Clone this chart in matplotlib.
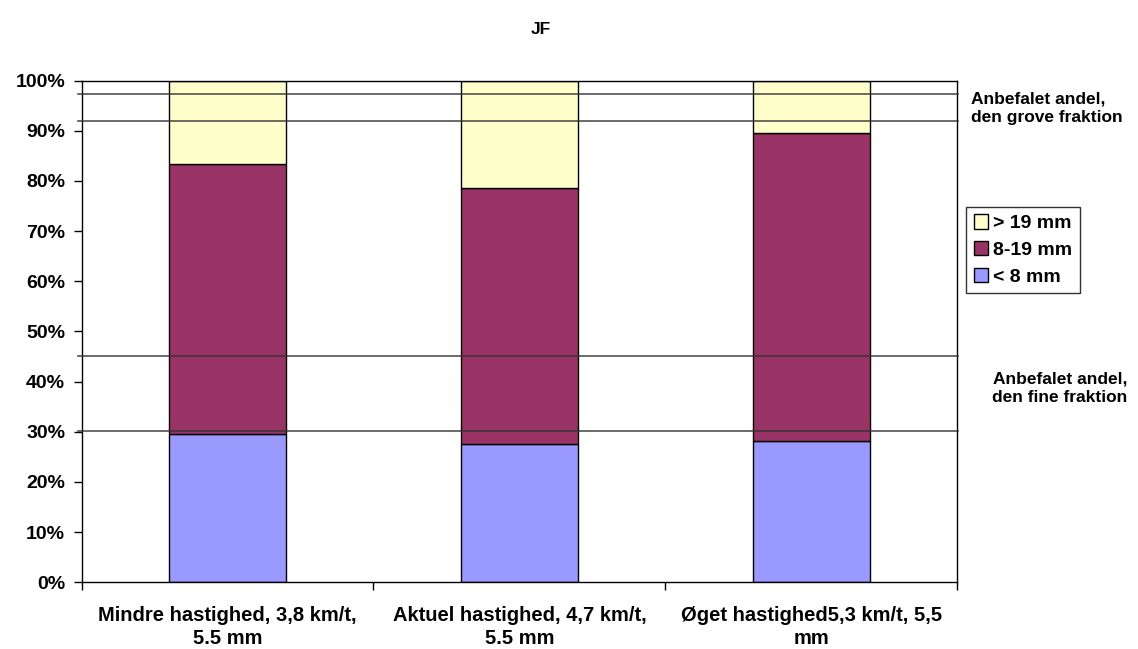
import matplotlib.pyplot as plt
import numpy as np

plt.rcParams['font.family'] = ['Liberation Sans', 'DejaVu Sans']
plt.rcParams['font.weight'] = 'bold'

categories = ["Mindre hastighed, 3,8 km/t,\n5.5 mm",
              "Aktuel hastighed, 4,7 km/t,\n5.5 mm",
              "Øget hastighed5,3 km/t, 5,5\nmm"]
fine = [29.6, 27.6, 28.1]          # < 8 mm
middle = [53.7, 51.1, 61.5]        # 8-19 mm
coarse = [16.7, 21.3, 10.4]        # > 19 mm
ref_lines = [97.3, 92.0, 45.2, 30.1]

fig = plt.figure(figsize=(11.38, 6.49), dpi=100)
ax = fig.add_axes([0.0718, 0.1028, 0.7692, 0.7729])

x = np.arange(len(categories))
w = 0.4
fine = np.array(fine)
middle = np.array(middle)
coarse = np.array(coarse)

ax.bar(x, fine, w, color='#9999FF', edgecolor='black', lw=1, label='< 8 mm', zorder=2)
ax.bar(x, middle, w, bottom=fine, color='#993366', edgecolor='black', lw=1, label='8-19 mm', zorder=2)
ax.bar(x, coarse, w, bottom=fine + middle, color='#FFFFCC', edgecolor='black', lw=1, label='> 19 mm', zorder=2)

# recommended band lines
for y in ref_lines:
    ax.plot([-0.514, 2.503], [y, y], color='#333333', lw=1.2, alpha=0.85, clip_on=False, zorder=3)

ax.set_xlim(-0.5, 2.5)
ax.set_ylim(0, 100)
ax.set_yticks(np.arange(0, 101, 10))
ax.set_yticklabels([f"{v}%" for v in range(0, 101, 10)], fontsize=14, fontweight='bold')
ax.set_xticks([-0.5, 0.5, 1.5, 2.5])
ax.set_xticklabels([])
ax.set_xticks(x, minor=True)
ax.set_xticklabels(categories, minor=True, fontsize=14.5, fontweight='bold', linespacing=1.3)
ax.tick_params(axis='x', which='minor', length=0, pad=17)
ax.tick_params(axis='both', which='major', length=6, width=1, direction='out')
ax.tick_params(axis='y', pad=6)
for s in ax.spines.values():
    s.set_linewidth(1)
    s.set_color('black')

fig.text(541 / 1138, 1 - 30 / 649, "JF", ha='center', va='center', fontsize=12.5, fontweight='bold')
fig.text(971 / 1138, 1 - 108 / 649, "Anbefalet andel,\nden grove fraktion", ha='left', va='center',
         fontsize=12.5, fontweight='bold', linespacing=1.3)
fig.text(1060 / 1138, 1 - 388 / 649, "Anbefalet andel,\nden fine fraktion", ha='center', va='center',
         fontsize=12.5, fontweight='bold', linespacing=1.3)

handles, labels = ax.get_legend_handles_labels()
leg = fig.legend(handles[::-1], labels[::-1], loc='center left',
                 bbox_to_anchor=(966 / 1138, 1 - 250 / 649), frameon=True, fancybox=False,
                 edgecolor='black', prop={'weight': 'bold', 'size': 14},
                 handlelength=0.75, handleheight=0.75, handletextpad=0.25, borderpad=0.4,
                 labelspacing=0.45, borderaxespad=0)
leg.get_frame().set_linewidth(1)

fig.savefig("out.png", dpi=100)
